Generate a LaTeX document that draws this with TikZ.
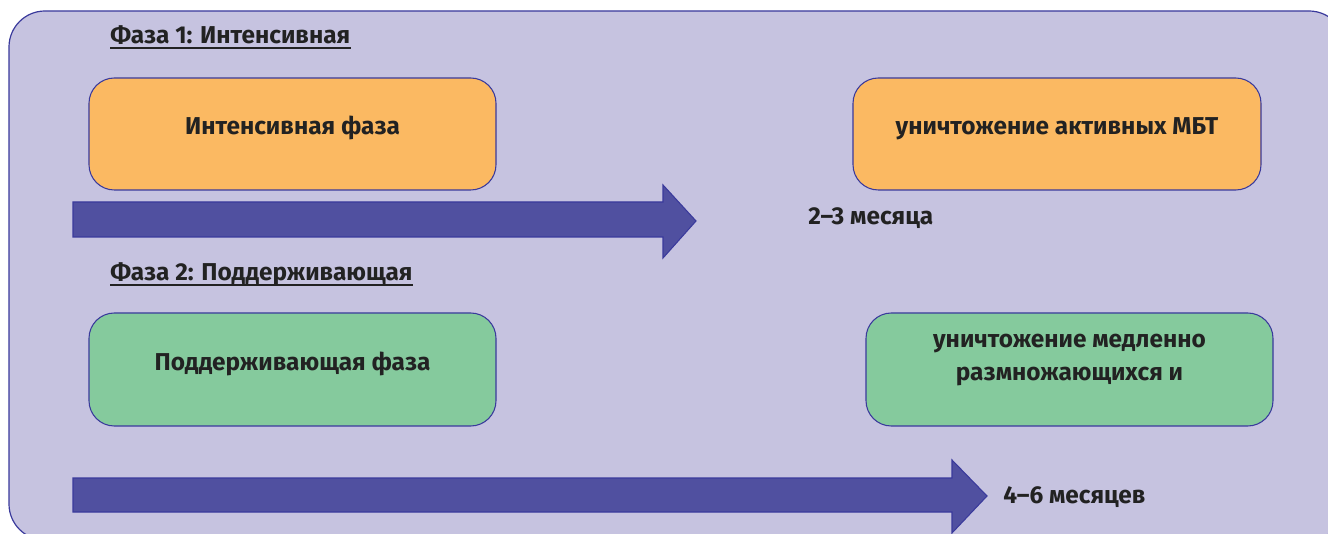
\documentclass[tikz,border=0pt]{standalone}
\usepackage{fontspec}
\setmainfont{Fira Sans}
\definecolor{bgc}{HTML}{C6C3E0}
\definecolor{edgec}{HTML}{3A3A9C}
\definecolor{orangec}{HTML}{FBB962}
\definecolor{greenc}{HTML}{85CA9D}
\definecolor{arrowc}{HTML}{5050A0}
\definecolor{txtc}{HTML}{222222}
\begin{document}
\begin{tikzpicture}[x=0.75pt,y=-0.75pt,
  frame/.style={draw=edgec,line width=0.9pt,fill=bgc,rounded corners=27pt},
  phasebox/.style={draw=edgec,line width=0.8pt,rounded corners=19pt},
  boxtext/.style={font=\bfseries\fontsize{18.3}{22}\selectfont,text=txtc,inner sep=0pt,anchor=base,align=center},
  lbl/.style={font=\bfseries\fontsize{18.3}{22}\selectfont,text=txtc,inner sep=0pt,anchor=base west},
  bigarrow/.style={draw=edgec,line width=0.8pt,fill=arrowc}]
\useasboundingbox (0,0) rectangle (1328,534);
\clip (0,0) rectangle (1328,534);
\fill[white] (0,0) rectangle (1328,534);
\draw[frame] (9,11) rectangle (1345,540);
% boxes
\draw[phasebox,fill=orangec] (89,78) rectangle (496,190);
\draw[phasebox,fill=orangec] (853,78) rectangle (1261,190);
\draw[phasebox,fill=greenc] (89,313) rectangle (496,426);
\draw[phasebox,fill=greenc] (866,313) rectangle (1273,426);
\node[boxtext] (b1) at (292.5,135) {Интенсивная фаза};
\node[boxtext] (b2) at (1057,135) {уничтожение активных МБТ};
\node[boxtext] (b3) at (292.5,371) {Поддерживающая фаза};
\node[boxtext] (b4a) at (1069.5,348) {уничтожение медленно};
\node[boxtext] (b4b) at (1069.5,381) {размножающихся и};
% arrows
\draw[bigarrow] (73,202) -- (663,202) -- (663,185) -- (696,221) -- (663,258) -- (663,237) -- (73,237) -- cycle;
\draw[bigarrow] (73,478) -- (952,478) -- (952,460) -- (987,496) -- (952,533) -- (952,512) -- (73,512) -- cycle;
% labels
\node[lbl] (p1) at (110,44) {Фаза 1: Интенсивная};
\node[lbl] (p2) at (110,281) {Фаза 2: Поддерживающая};
\draw[txtc,line width=1.2pt] ([yshift=-3pt]p1.base west) -- ([yshift=-3pt]p1.base east);
\draw[txtc,line width=1.2pt] ([yshift=-3pt]p2.base west) -- ([yshift=-3pt]p2.base east);
\node[lbl] (d1) at (808,225) {2–3 месяца};
\node[lbl] (d2) at (1003,503) {4–6 месяцев};
\end{tikzpicture}
\end{document}
